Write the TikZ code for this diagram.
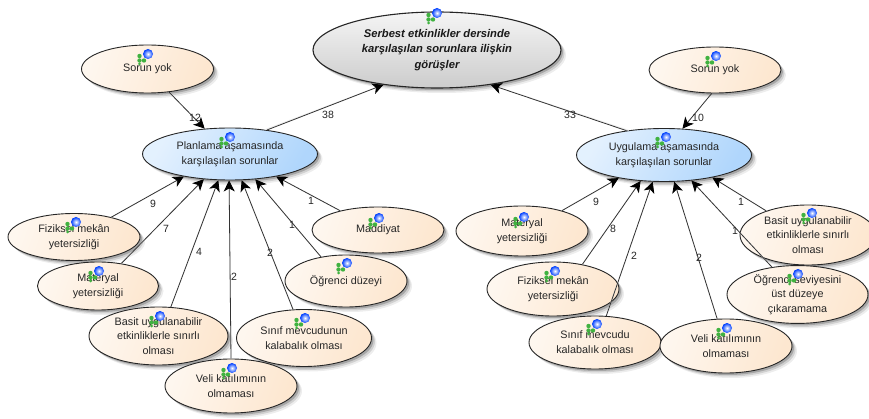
\documentclass[tikz,border=0pt]{standalone}
\usepackage{fontspec}
\setmainfont{Liberation Sans}
\usetikzlibrary{shapes.geometric,shadows,arrows.meta}
\definecolor{peach}{RGB}{253,231,208}
\definecolor{skyb}{RGB}{176,214,252}
\tikzset{
  x=1pt,y=-1pt,
  softshadow/.style={
    drop shadow={shadow xshift=5pt,shadow yshift=-5pt,fill=black,opacity=.07},
    drop shadow={shadow xshift=3.5pt,shadow yshift=-3.5pt,fill=black,opacity=.12},
    drop shadow={shadow xshift=2pt,shadow yshift=-2pt,fill=black,opacity=.2}},
  base/.style={ellipse,draw=black!85,line width=0.9pt,inner sep=0pt,align=center,
    font=\fontsize{10.8}{14.8}\selectfont,text=black!85,softshadow},
  code/.style={base,shading=axis,left color=peach!35,right color=peach,shading angle=70},
  hubb/.style={base,shading=axis,left color=skyb!35,right color=skyb,shading angle=60},
  root/.style={base,shading=axis,top color=black!4,bottom color=black!20,line width=1.1pt,
    font=\fontsize{11.2}{15.5}\selectfont\bfseries\itshape,text=black!90},
  link/.style={draw=black!80,line width=0.8pt,-{Stealth[length=11pt,width=11pt,inset=3pt,color=black]}},
  ghost/.style={draw=black!7,line width=0.8pt,-{Stealth[length=8pt,width=7pt]},shorten >=2pt},
  num/.style={font=\fontsize{10.5}{12}\selectfont,text=black!85,inner sep=0pt},
  ico/.pic={
    \fill[green!60!black!75] (-8.5,2) circle (2.2);
    \fill[green!60!black!75] (-8.5,6.5) circle (2.2);
    \fill[green!60!black!75] (-4,6.5) circle (2.2);
    \fill[green!60!black!75] (-8.5,10) circle (1.5);
    \shade[inner color=white,middle color=cyan!35,outer color=blue!75!cyan] (0,0) circle (5);
  }
}
\begin{document}
\begin{tikzpicture}
\useasboundingbox (0,0) rectangle (869,419);
\fill[white] (0,0) rectangle (869,419);
% bubbles
\node[root,minimum width=248pt,minimum height=76pt] (top) at (437,50) {Serbest etkinlikler dersinde\\karşılaşılan sorunlara ilişkin\\görüşler};
\node[hubb,minimum width=175pt,minimum height=52pt] (plan) at (230,154) {Planlama aşamasında\\karşılaşılan sorunlar};
\node[hubb,minimum width=175pt,minimum height=53pt] (uyg) at (664,155) {Uygulama aşamasında\\karşılaşılan sorunlar};
\node[code,minimum width=132pt,minimum height=48pt] (syl) at (147.5,69) {Sorun yok};
\node[code,minimum width=132pt,minimum height=46pt] (syr) at (715,70) {Sorun yok};
\node[code,minimum width=132pt,minimum height=47pt] (fl) at (74,237) {Fiziksel mekân\\yetersizliği};
\node[code,minimum width=121pt,minimum height=48pt] (ml) at (98,286) {Materyal\\yetersizliği};
\node[code,minimum width=139pt,minimum height=58pt] (bl) at (158.5,336) {Basit uygulanabilir\\etkinliklerle sınırlı\\olması};
\node[code,minimum width=135pt,minimum height=57pt] (sl) at (304,338) {Sınıf mevcudunun\\kalabalık olması};
\node[code,minimum width=132pt,minimum height=54pt] (vl) at (231,386) {Veli katılımının\\olmaması};
\node[code,minimum width=122pt,minimum height=52pt] (ol) at (346,281) {Öğrenci düzeyi};
\node[code,minimum width=132pt,minimum height=46pt] (dl) at (378,230) {Maddiyat};
\node[code,minimum width=132pt,minimum height=50pt] (mr) at (522,231) {Materyal\\yetersizliği};
\node[code,minimum width=132pt,minimum height=54pt] (fr) at (553,289) {Fiziksel mekân\\yetersizliği};
\node[code,minimum width=132pt,minimum height=53pt] (sr) at (595,342.5) {Sınıf mevcudu\\kalabalık olması};
\node[code,minimum width=132pt,minimum height=54pt] (vr) at (726,346) {Veli katılımının\\olmaması};
\node[code,minimum width=136pt,minimum height=60pt] (br) at (808,235) {Basit uygulanabilir\\etkinliklerle sınırlı\\olması};
\node[code,minimum width=141pt,minimum height=57pt] (or) at (797.5,294.5) {Öğrenci seviyesini\\üst düzeye\\çıkaramama};
% faint ghost connectors
\begin{scope}[shift={(9,5)}]
\foreach \a/\b/\c/\d in {plan/35/top/213, uyg/145/top/327, fl/28/plan/206, ml/44/plan/224, bl/67/plan/246, vl/90/plan/268, sl/111/plan/294, ol/136/plan/315, dl/153/plan/334, mr/27/uyg/207, fr/40/uyg/228, sr/67/uyg/247, vr/108/uyg/291, or/133/uyg/317, br/150/uyg/335}
  \draw[ghost] (\a.\b) -- (\c.\d);
\end{scope}
% connectors
\draw[link] (plan.33) -- (top.213);
\draw[link] (uyg.147) -- (top.327);
\draw[link] (syl.313) -- (plan.135);
\draw[link] (syr.262) -- (uyg.55);
\draw[link] (fl.28) -- (plan.206);
\draw[link] (ml.44) -- (plan.224);
\draw[link] (bl.67) -- (plan.246);
\draw[link] (vl.90) -- (plan.268);
\draw[link] (sl.111) -- (plan.294);
\draw[link] (ol.136) -- (plan.315);
\draw[link] (dl.153) -- (plan.334);
\draw[link] (mr.27) -- (uyg.207);
\draw[link] (fr.40) -- (uyg.228);
\draw[link] (sr.67) -- (uyg.247);
\draw[link] (vr.108) -- (uyg.291);
\draw[link] (or.133) -- (uyg.317);
\draw[link] (br.150) -- (uyg.335);
% icons
\foreach \p in {(437,13),(148,54),(716,56),(230,137),(666,137),(76,222),(99,271),(160,316),(305,318),(232,368),(347,263),(379,218),(524,217),(555,271),(597,324),(727,328),(798,274),(812,213)}
  \pic at \p {ico};
% numbers
\node[num] (n1) at (195,118) {12};
\node[num] (n2) at (328,115) {38};
\node[num] (n3) at (570,115) {33};
\node[num] (n4) at (698,118) {10};
\node[num] (n5) at (153,204) {9};
\node[num] (n6) at (166,229) {7};
\node[num] (n7) at (199,252) {4};
\node[num] (n8) at (234,277) {2};
\node[num] (n9) at (270,253) {2};
\node[num] (n10) at (292,225) {1};
\node[num] (n11) at (311,201) {1};
\node[num] (n12) at (596,202) {9};
\node[num] (n13) at (613,229) {8};
\node[num] (n14) at (634,256) {2};
\node[num] (n15) at (699,258) {2};
\node[num] (n16) at (735,231) {1};
\node[num] (n17) at (741,202) {1};
\end{tikzpicture}
\end{document}
